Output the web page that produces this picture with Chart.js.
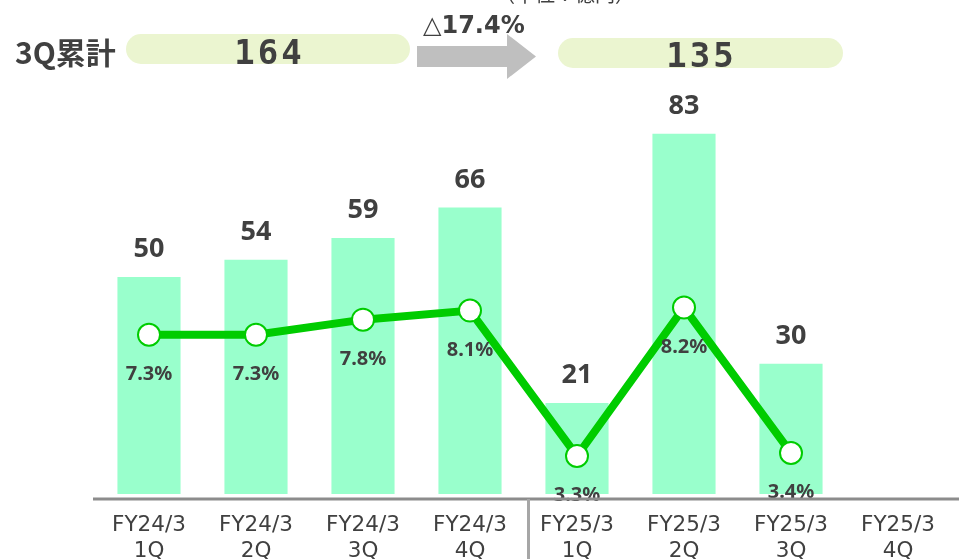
<!DOCTYPE html>
<html>
<head>
<meta charset="utf-8">
<script src="https://cdn.jsdelivr.net/npm/chart.js@4.4.0/dist/chart.umd.min.js"></script>
<style>
html,body{margin:0;padding:0;background:#fff;}
#wrap{position:relative;width:959px;height:559px;overflow:hidden;}
#c{position:absolute;left:0;top:0;}
.t{position:absolute;color:#404040;white-space:nowrap;}
.pill{position:absolute;background:#EBF5D0;border-radius:15px;height:30px;}
#unit{left:495px;top:-16px;font:20px/20px "Noto Sans CJK JP";}
#cumLabel{left:15px;top:36px;font:bold 30px/30px "Noto Sans CJK JP";}
#pillPrev{left:126px;top:34px;width:284px;}
#pillCur{left:558px;top:38px;width:285px;}
.big{width:200px;text-align:center;font:bold 34px/34px "DejaVu Sans Mono";letter-spacing:3px;padding-left:3px;box-sizing:border-box;}
#valPrev{left:168px;top:35px;}
#valCur{left:600px;top:38px;}
#chg{left:423px;top:12.5px;font:bold 24px/24px "DejaVu Sans";}
#chg .tri{font-weight:normal;}
#arrow{position:absolute;left:0;top:0;}
</style>
</head>
<body>
<div id="wrap">
  <canvas id="c" width="959" height="559"></canvas>
  <div class="t" id="unit"></div>
  <div class="t" id="cumLabel"></div>
  <div class="pill" id="pillPrev"></div>
  <div class="pill" id="pillCur"></div>
  <svg id="arrow" width="959" height="100"><polygon points="417,46 507,46 507,34 536,56.5 507,79 507,67 417,67" fill="#BFBFBF"/></svg>
  <div class="t big" id="valPrev"></div>
  <div class="t big" id="valCur"></div>
  <div class="t" id="chg"></div>
</div>
<script>
// ---- data ----
const categories = [
  ["FY24/3","1Q"],["FY24/3","2Q"],["FY24/3","3Q"],["FY24/3","4Q"],
  ["FY25/3","1Q"],["FY25/3","2Q"],["FY25/3","3Q"],["FY25/3","4Q"]
];
const profitValues = [50, 54, 59, 66, 21, 83, 30, null];
const marginValues = [7.3, 7.3, 7.8, 8.1, 3.3, 8.2, 3.4, null];
const unitText = "（単位：億円）";
const cumulativeTitle = "3Q累計";
const cumulativeValues = [164, 135];
const cumulativeChangeSymbol = "△";
const cumulativeChangePct = "17.4%";

// ---- header text ----
document.getElementById('unit').textContent = unitText;
document.getElementById('cumLabel').textContent = cumulativeTitle;
document.getElementById('valPrev').textContent = String(cumulativeValues[0]);
document.getElementById('valCur').textContent = String(cumulativeValues[1]);
const chg = document.getElementById('chg');
const tri = document.createElement('span'); tri.className = 'tri'; tri.textContent = cumulativeChangeSymbol;
chg.appendChild(tri); chg.appendChild(document.createTextNode(cumulativeChangePct));

const TEXT = '#404040';

const labelPlugin = {
  id: 'labels',
  afterDatasetsDraw(chart) {
    const ctx = chart.ctx;
    ctx.save();
    const barMeta = chart.getDatasetMeta(0);
    ctx.fillStyle = TEXT;
    ctx.textAlign = 'center';
    ctx.textBaseline = 'alphabetic';
    ctx.font = 'bold 27px "Noto Sans"';
    barMeta.data.forEach((el, i) => {
      const v = profitValues[i];
      if (v == null) return;
      ctx.fillText(String(v), el.x, el.y - 20);
    });
    const lineMeta = chart.getDatasetMeta(1);
    ctx.font = 'bold 20px "Noto Sans"';
    lineMeta.data.forEach((el, i) => {
      const v = marginValues[i];
      if (v == null) return;
      ctx.fillText(v.toFixed(1) + '%', el.x, el.y + 45);
    });
    const xs = chart.scales.x;
    const yb = chart.chartArea.bottom;
    ctx.strokeStyle = '#8C8C8C';
    ctx.lineWidth = 3;
    ctx.beginPath(); ctx.moveTo(93, yb); ctx.lineTo(959, yb); ctx.stroke();
    const sepX = (xs.getPixelForValue(3) + xs.getPixelForValue(4)) / 2 + 5;
    ctx.strokeStyle = '#A6A6A6';
    ctx.beginPath(); ctx.moveTo(sepX, yb); ctx.lineTo(sepX, 559); ctx.stroke();
    ctx.restore();
  }
};

new Chart(document.getElementById('c'), {
  data: {
    labels: categories,
    datasets: [
      {
        type: 'bar',
        data: profitValues,
        yAxisID: 'y',
        backgroundColor: '#99FFCC',
        borderWidth: 0,
        barPercentage: 0.59,
        categoryPercentage: 1.0,
        order: 1
      },
      {
        type: 'line',
        data: marginValues,
        yAxisID: 'y2',
        borderColor: '#00CC00',
        borderWidth: 8,
        pointRadius: 11,
        pointBackgroundColor: '#FFFFFF',
        pointBorderColor: '#00CC00',
        pointBorderWidth: 2,
        tension: 0,
        order: 0
      }
    ]
  },
  options: {
    responsive: false,
    animation: false,
    devicePixelRatio: 1,
    layout: { autoPadding: false, padding: { left: 95.5, right: 7.5, top: 100, bottom: 0 } },
    plugins: { legend: { display: false }, tooltip: { enabled: false } },
    scales: {
      x: {
        offset: true,
        grid: { display: false },
        border: { display: false },
        ticks: {
          color: TEXT,
          font: { family: 'DejaVu Sans', size: 21.5, lineHeight: 1.2 },
          padding: 6,
          maxRotation: 0,
          autoSkip: false
        },
        afterFit(s) { s.height = 60; s.paddingLeft = 0; s.paddingRight = 0; }
      },
      y: { display: false, min: -1.15, max: 90.8 },
      y2: { display: false, position: 'right', min: 1.88, max: 15.05 }
    }
  },
  plugins: [labelPlugin]
});
</script>
</body>
</html>
